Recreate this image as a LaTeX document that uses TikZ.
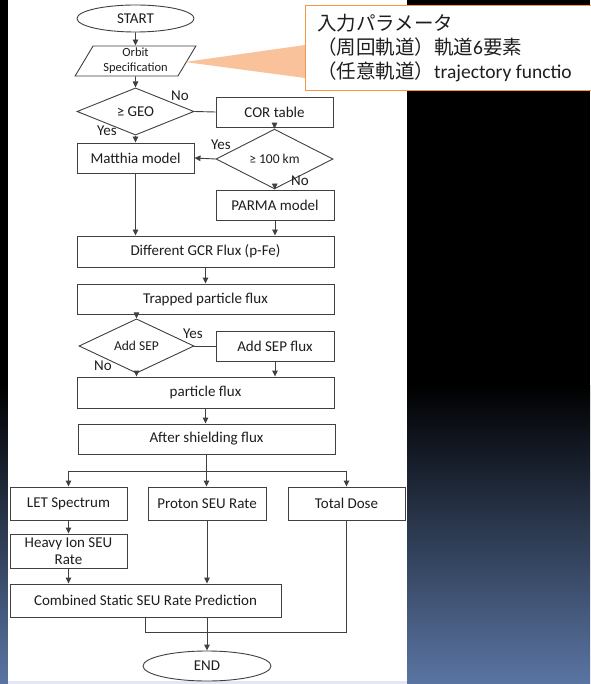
\documentclass[tikz,border=0pt]{standalone}
\usepackage{fontspec}
\setmainfont{Carlito}
\newfontfamily\cjk{Noto Sans CJK JP}
\usetikzlibrary{shapes.geometric,arrows.meta}
\definecolor{lineC}{HTML}{404040}
\definecolor{txtC}{HTML}{1E1E1E}
\definecolor{orangeC}{HTML}{F79646}
\definecolor{wedgeC}{HTML}{FAC29A}
\definecolor{blueBot}{RGB}{90,117,163}
\tikzset{
  box/.style={draw=lineC, line width=0.9pt, fill=white, text=txtC, inner sep=0pt,
    font=\fontsize{15}{17}\selectfont, align=center},
  dia/.style={diamond, draw=lineC, line width=0.9pt, fill=white, text=txtC, inner sep=0pt,
    font=\fontsize{13.5}{16}\selectfont},
  term/.style={ellipse, draw=lineC, line width=0.9pt, fill=white, text=txtC, inner sep=0pt,
    font=\fontsize{15}{17}\selectfont},
  para/.style={trapezium, trapezium left angle=62, trapezium right angle=118,
    trapezium stretches=true, draw=lineC, line width=0.9pt, fill=white, text=txtC,
    inner sep=0pt, align=center, font=\fontsize{12.5}{15}\selectfont},
  lbl/.style={text=txtC, inner sep=0pt, font=\fontsize{15}{17}\selectfont},
  conn/.style={draw=lineC, line width=0.9pt},
  arr/.style={conn, -{Triangle[length=6pt,width=5.5pt]}},
}
\begin{document}
\begin{tikzpicture}[x=1pt,y=-1pt]
\useasboundingbox (0,0) rectangle (590,684);
% background
\fill[black] (0,0) rectangle (590,684);
\shade[top color=black, bottom color=blueBot] (0,385) rectangle (590,684);
\fill[white] (8,0) rectangle (407,681);
\fill[black!18!blue!10!white] (8,681) rectangle (407,684);

% nodes
\node[term, minimum width=117pt, minimum height=27pt] (start) at (135.5,18.5) {START};
\node[para, minimum width=122pt, minimum height=30pt] (orbit) at (135.5,61) {Orbit\\Specification};
\node[dia, minimum width=117pt, minimum height=29pt, font=\fontsize{15}{17}\selectfont] (geo) at (135.5,111.5) {≥ GEO};
\node[box, minimum width=117pt, minimum height=30pt] (cor) at (274.5,112) {COR table};
\node[box, minimum width=117pt, minimum height=30pt] (matthia) at (135.5,158) {Matthia model};
\node[dia, minimum width=117pt, minimum height=32pt] (km) at (274.5,159) {≥ 100 km};
\node[box, minimum width=118pt, minimum height=30pt] (parma) at (275,205) {PARMA model};
\node[box, minimum width=257pt, minimum height=31pt] (gcr) at (205.5,251.5) {Different GCR Flux (p-Fe)};
\node[box, minimum width=257pt, minimum height=30pt] (trapped) at (205.5,299) {Trapped particle flux};
\node[dia, minimum width=115pt, minimum height=30pt] (sep) at (136.5,346) {Add SEP};
\node[box, minimum width=118pt, minimum height=30pt] (sepflux) at (275,346) {Add SEP flux};
\node[box, minimum width=257pt, minimum height=31pt] (particle) at (205.5,392.5) {particle flux};
\node[box, minimum width=257pt, minimum height=30pt] (shield) at (206.5,439) {After shielding flux};
\node[box, minimum width=117pt, minimum height=33pt] (let) at (68.5,503.5) {LET Spectrum};
\node[box, minimum width=118pt, minimum height=33pt] (proton) at (207,503.5) {Proton SEU Rate};
\node[box, minimum width=117pt, minimum height=33pt] (dose) at (346.5,503.5) {Total Dose};
\node[box, minimum width=117pt, minimum height=34pt] (heavy) at (68.5,551) {Heavy Ion SEU\\Rate};
\node[box, minimum width=271pt, minimum height=33pt] (combined) at (145.5,600.5) {Combined Static SEU Rate Prediction};
\node[term, minimum width=128pt, minimum height=30pt] (end) at (207,666) {END};

% connectors
\draw[arr] (start) -- (orbit);
\draw[arr] (orbit) -- (geo);
\draw[conn] (geo.east) -- (cor.west);
\draw[arr] (geo) -- (matthia);
\draw[arr] (cor) -- (km);
\draw[arr] (km.west) -- (matthia.east);
\draw[arr] (km) -- (parma);
\draw[arr] (matthia.south) -- (matthia.south |- gcr.north);
\draw[arr] (parma.south) -- (parma.south |- gcr.north);
\draw[arr] (gcr.south) -- (trapped.north);
\draw[arr] (sep.north |- trapped.south) -- (sep.north);
\draw[conn] (sep.east) -- (sepflux.west);
\draw[arr] (sep.south) -- (sep.south |- particle.north);
\draw[arr] (sepflux.south) -- (sepflux.south |- particle.north);
\draw[arr] (particle.south) -- (particle.south |- shield.north);
\coordinate (br) at (206.5,471);
\draw[conn] (shield.south) -- (br);
\draw[conn] (let.north |- br) -- (dose.north |- br);
\draw[arr] (let.north |- br) -- (let.north);
\draw[arr] (br) -- (br |- proton.north);
\draw[arr] (dose.north |- br) -- (dose.north);
\draw[arr] (let) -- (heavy);
\draw[arr] (heavy.south) -- (heavy.south |- combined.north);
\draw[arr] (proton.south) -- (proton.south |- combined.north);
\coordinate (jn) at (145.5,632);
\draw[conn] (combined.south) -- (jn) -| (dose.south);
\draw[arr] (end.north |- combined.south) -- (end.north);

% labels
\node[lbl] (l1) at (180,96) {No};
\node[lbl] (l2) at (107,131) {Yes};
\node[lbl] (l3) at (221,145) {Yes};
\node[lbl] (l4) at (300,181) {No};
\node[lbl] (l5) at (193,334) {Yes};
\node[lbl] (l6) at (103,366) {No};

% callout
\fill[wedgeC] (185,62) -- (305,45) -- (305,78) -- cycle;
\node[draw=orangeC, line width=1pt, fill=white, minimum width=292pt, minimum height=85pt, inner sep=0pt] (note) at (451,48.5) {};
\node[anchor=west, align=left, text=txtC, inner sep=0pt, font=\fontsize{19.5}{24}\selectfont] (notetxt) at (317,48.5)
  {{\cjk 入力パラメータ}\\{\cjk （周回軌道）軌道}6{\cjk 要素}\\{\cjk （任意軌道）}trajectory functio};
\end{tikzpicture}
\end{document}
